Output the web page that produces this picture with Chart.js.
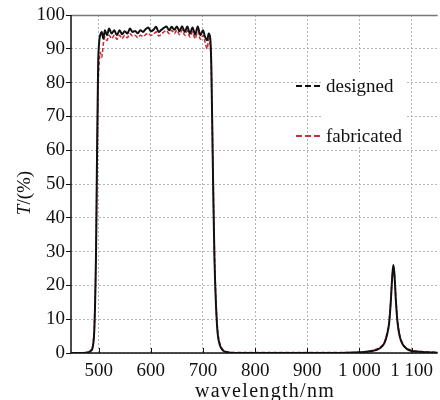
<!DOCTYPE html>
<html>
<head>
<meta charset="utf-8">
<script src="https://cdn.jsdelivr.net/npm/chart.js@4.4.0/dist/chart.umd.min.js"></script>
<style>
  body { margin: 0; background: #fff; }
  canvas { display: block; }
</style>
</head>
<body>
<canvas id="chart" width="440" height="400"></canvas>
<script>
// wavelength samples (nm)
const wavelength = [
  447, 470, 480, 485, 489, 492, 495, 497, 499, 501,
  503, 506, 509, 512, 516, 520, 525, 530, 535, 540,
  545, 550, 555, 560, 565, 570, 575, 580, 585, 590,
  595, 600, 605, 610, 615, 620, 625, 630, 635, 640,
  645, 650, 655, 660, 665, 670, 675, 680, 685, 690,
  695, 700, 704, 708, 711, 714, 716, 718, 720, 722,
  725, 728, 732, 738, 745, 760, 850, 950, 1000, 1020,
  1040, 1048, 1053, 1057, 1060, 1063, 1065, 1067, 1070, 1073,
  1077, 1083, 1090, 1100, 1120, 1150
];

// transmittance T (%)
const designed = [
  0, 0, 0.2, 0.6, 2, 8, 30, 60, 85, 92,
  94, 95, 93, 95.5, 94, 96, 94.5, 95.5, 94, 95.5,
  94.3, 95.2, 94.5, 96, 95, 95.3, 94.6, 95.5, 95, 95.8,
  96.3, 95.2, 95.6, 96.5, 95, 95.6, 96.2, 96.6, 95.5, 96.5,
  95.6, 96.6, 95.2, 96.7, 95, 96.6, 94.5, 96.3, 94.2, 96.6,
  94, 95.5, 93.5, 92.5, 94.5, 93, 85, 65, 45, 28,
  14, 6, 2.5, 0.8, 0.3, 0, 0, 0, 0.2, 0.5,
  1.5, 3, 5.5, 9, 15, 23, 26, 23.5, 15, 9,
  5, 2.5, 1.3, 0.6, 0.3, 0.1
];

const fabricated = [
  0, 0, 0.3, 0.8, 2.5, 9, 30, 55, 78, 86,
  89, 87.5, 91.5, 93.5, 92.5, 94, 93, 94, 92.8, 94,
  93, 94, 93.3, 94.5, 93.8, 94, 93.3, 94, 93.6, 94.2,
  94.6, 94, 94.2, 95, 93.8, 94.3, 95, 95.4, 94.5, 95.5,
  94.5, 95.5, 94.2, 95.6, 94, 95.4, 93.5, 95, 93, 95.2,
  92.8, 94, 92, 90, 93, 91, 84, 66, 47, 30,
  15, 7, 3, 1, 0.4, 0.1, 0.1, 0.1, 0.2, 0.6,
  1.8, 3.3, 6, 9.5, 15.5, 23, 25.5, 23, 15.5, 9.5,
  5.5, 2.8, 1.5, 0.8, 0.4, 0.2
];

const xTicks = [500, 600, 700, 800, 900, 1000, 1100];
const seriesNames = ['designed', 'fabricated'];

const FONT = "'Liberation Serif', 'DejaVu Serif', serif";

// grouping with a space, like "1 000"
function fmtTick(v) {
  return String(v).replace(/\B(?=(\d{3})+(?!\d))/g, ' ');
}

// axes, frame, legend and axis titles
const decorations = {
  id: 'decorations',
  afterDatasetsDraw(chart) {
    const ctx = chart.ctx;
    const a = chart.chartArea;
    const xs = chart.scales.x;
    ctx.save();

    // white box behind legend text
    ctx.fillStyle = '#fff';
    ctx.fillRect(323, 72, 84, 74);

    // top frame
    ctx.strokeStyle = '#777';
    ctx.lineWidth = 1.5;
    ctx.beginPath();
    ctx.moveTo(a.left, a.top + 0.5);
    ctx.lineTo(a.right, a.top + 0.5);
    ctx.stroke();

    // left and bottom axes
    ctx.strokeStyle = '#111';
    ctx.lineWidth = 1.5;
    ctx.beginPath();
    ctx.moveTo(a.left, a.top);
    ctx.lineTo(a.left, a.bottom);
    ctx.lineTo(a.right, a.bottom);
    ctx.stroke();

    // inward x ticks
    ctx.lineWidth = 1;
    xTicks.forEach(v => {
      const px = Math.round(xs.getPixelForValue(v)) + 0.5;
      ctx.beginPath();
      ctx.moveTo(px, a.bottom);
      ctx.lineTo(px, a.bottom - 5);
      ctx.stroke();
    });

    // legend
    const ds = chart.data.datasets;
    const rows = [86, 136];
    ctx.font = '19px ' + FONT;
    ctx.textBaseline = 'middle';
    ctx.textAlign = 'left';
    ds.forEach((d, i) => {
      ctx.strokeStyle = d.borderColor;
      ctx.lineWidth = 2;
      ctx.setLineDash([6, 3]);
      ctx.beginPath();
      ctx.moveTo(296, rows[i]);
      ctx.lineTo(322, rows[i]);
      ctx.stroke();
      ctx.setLineDash([]);
      ctx.fillStyle = '#111';
      ctx.fillText(d.label, 326, rows[i] + 1);
    });

    // x title
    ctx.fillStyle = '#111';
    ctx.font = '20px ' + FONT;
    ctx.textAlign = 'center';
    ctx.textBaseline = 'alphabetic';
    ctx.letterSpacing = '1.3px';
    ctx.fillText('wavelength/nm', 265, 397);
    ctx.letterSpacing = '0px';

    // y title, italic T
    ctx.translate(25, 193);
    ctx.rotate(-Math.PI / 2);
    ctx.textAlign = 'left';
    ctx.textBaseline = 'middle';
    ctx.font = 'italic 19px ' + FONT;
    const wT = ctx.measureText('T').width;
    ctx.font = '19px ' + FONT;
    const wR = ctx.measureText('/(%)').width;
    const start = -(wT + wR) / 2;
    ctx.font = 'italic 19px ' + FONT;
    ctx.fillText('T', start, 0);
    ctx.font = '19px ' + FONT;
    ctx.fillText('/(%)', start + wT, 0);

    ctx.restore();
  }
};

new Chart(document.getElementById('chart'), {
  type: 'line',
  data: {
    datasets: [
      {
        label: seriesNames[0],
        data: wavelength.map((x, i) => ({ x: x, y: designed[i] })),
        borderColor: '#111111',
        borderWidth: 2,
        pointRadius: 0,
        cubicInterpolationMode: 'monotone'
      },
      {
        label: seriesNames[1],
        data: wavelength.map((x, i) => ({ x: x, y: fabricated[i] })),
        borderColor: '#c8323c',
        borderWidth: 1.6,
        borderDash: [4, 2],
        pointRadius: 0,
        cubicInterpolationMode: 'monotone'
      }
    ]
  },
  options: {
    responsive: false,
    animation: false,
    layout: { padding: { top: 15, left: 0, right: 0, bottom: 0 } },
    plugins: {
      legend: { display: false },
      tooltip: { enabled: false }
    },
    scales: {
      x: {
        type: 'linear',
        min: 447,
        max: 1150,
        afterBuildTicks: scale => {
          scale.ticks = xTicks.map(v => ({ value: v }));
        },
        afterFit: scale => { scale.height = 47; },
        ticks: {
          font: { family: FONT, size: 19 },
          color: '#111',
          padding: 7,
          maxRotation: 0,
          callback: v => fmtTick(v)
        },
        grid: {
          color: '#b5b5b5',
          lineWidth: 1,
          drawTicks: false
        },
        border: { display: false, dash: [2, 2] }
      },
      y: {
        min: 0,
        max: 100,
        afterFit: scale => { scale.width = 71; },
        ticks: {
          stepSize: 10,
          font: { family: FONT, size: 19 },
          color: '#111',
          padding: 1
        },
        grid: {
          color: '#b5b5b5',
          lineWidth: 1,
          tickLength: 5,
          tickColor: '#111',
          tickBorderDash: []
        },
        border: { display: false, dash: [2, 2] }
      }
    }
  },
  plugins: [decorations]
});
</script>
</body>
</html>
